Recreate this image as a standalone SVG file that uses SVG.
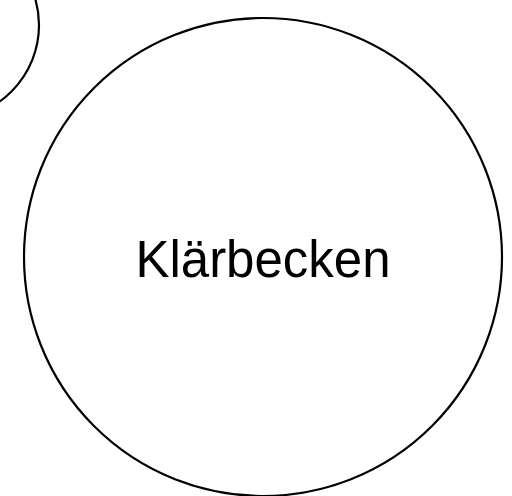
<svg xmlns="http://www.w3.org/2000/svg" width="512" height="496" viewBox="0 0 512 496">
<style>
.n{fill:#fff;stroke:#000;stroke-width:2.2}
.t{font-family:"Liberation Sans",Arial,sans-serif;font-size:51px;fill:#000;text-anchor:middle}
</style>
<rect width="512" height="496" fill="#fff"/>
<g id="node-prev"><circle class="n" cx="-55" cy="25" r="94"/></g>
<g id="node-klaerbecken"><circle class="n" cx="263" cy="257" r="239"/><text class="t" x="263" y="277">Klärbecken</text></g>
<g id="connectors"></g>
</svg>
